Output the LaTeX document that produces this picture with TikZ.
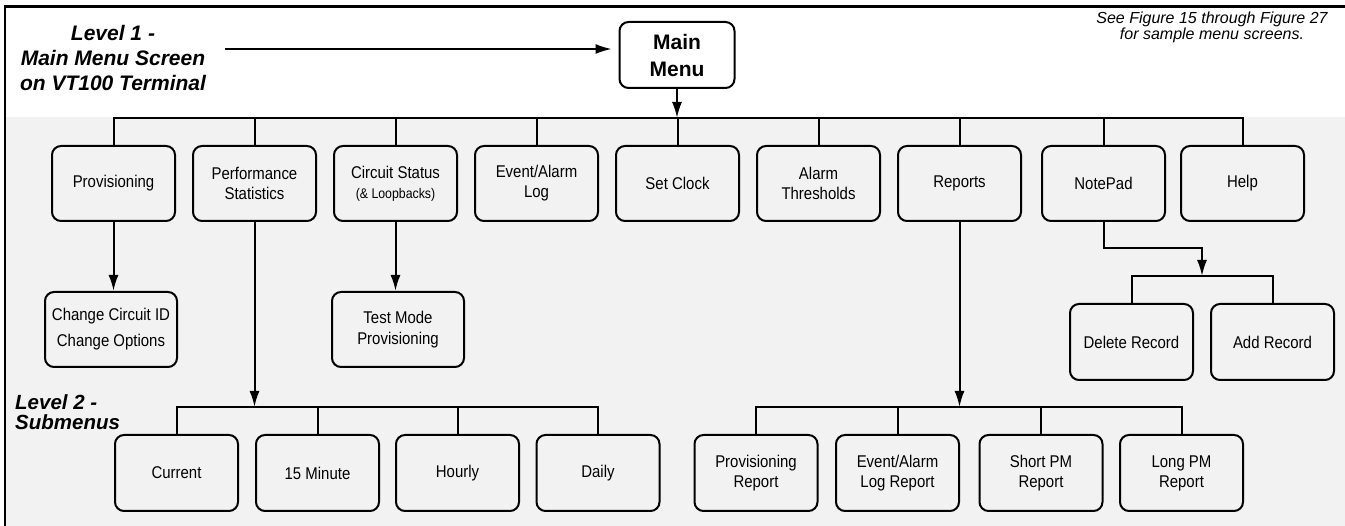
\documentclass[tikz,border=0pt]{standalone}
\usepackage{fontspec}
\setmainfont{Liberation Sans}
\newfontfamily\narrowsf{Liberation Sans}[FakeStretch=0.88]
\usetikzlibrary{arrows.meta}
\definecolor{panel}{HTML}{F2F2F2}
\tikzset{
  menubox/.style={draw, line width=2pt, rounded corners=9pt,
    minimum width=123pt, minimum height=75pt, inner sep=0pt, align=center,
    font=\narrowsf\fontsize{17}{20}\selectfont},
  link/.style={line width=2pt},
  arr/.style={line width=2pt, -{Latex[length=16pt,width=10pt]}},
  levellabel/.style={inner sep=0pt, font=\bfseries\itshape\fontsize{21}{25}\selectfont},
}
\begin{document}
\begin{tikzpicture}[x=1pt,y=-1pt]
\useasboundingbox (0,0) rectangle (1345,526);
% shaded panel and frame
\fill[panel] (5,117) rectangle (1345,526);
\draw[line width=2.8pt, line join=miter] (5,526) -- (5,6.5) -- (1345,6.5);

% headings
\node[levellabel, align=center] (lvl1) at (113,58) {Level 1 -\\Main Menu Screen\\on VT100 Terminal};
\node[levellabel, align=left, anchor=west, font=\bfseries\itshape\fontsize{20.5}{20}\selectfont] (lvl2) at (15,412) {Level 2 -\\Submenus};
\node[inner sep=0pt, align=center, font=\itshape\fontsize{16}{14}\selectfont] (see) at (1212,27) {See Figure 15 through Figure 27\\for sample menu screens.};

% main menu
\node[menubox, minimum width=115pt, minimum height=66pt,
      font=\bfseries\fontsize{21}{27}\selectfont] (main) at (677,55) {Main\\Menu};

% level 1 menus
\node[menubox] (prov) at (113.5,183.5) {Provisioning};
\node[menubox] (perf) at (254.5,183.5) {Performance\\Statistics};
\node[menubox] (circ) at (395.5,183.5) {Circuit Status\\{\fontsize{14}{16}\selectfont(\& Loopbacks)}};
\node[menubox] (evt)  at (536.5,183.5) {Event/Alarm\\Log};
\node[menubox] (clk)  at (677.5,183.5) {Set Clock};
\node[menubox] (thr)  at (818.5,183.5) {Alarm\\Thresholds};
\node[menubox] (rep)  at (959.5,183.5) {Reports};
\node[menubox] (note) at (1103.5,183.5) {NotePad};
\node[menubox] (help) at (1242.5,183.5) {Help};

% level 2 menus
\node[menubox, minimum width=132pt, font=\narrowsf\fontsize{17}{26}\selectfont] (cid) at (111,329.5) {Change Circuit ID\\Change Options};
\node[menubox, minimum width=132pt, font=\narrowsf\fontsize{17}{21}\selectfont] (test) at (398,329.5) {Test Mode\\Provisioning};
\node[menubox, minimum height=76pt] (del) at (1131.5,342) {Delete Record};
\node[menubox, minimum height=76pt] (add) at (1272.5,342) {Add Record};

\node[menubox, minimum height=76pt] (cur)   at (176.5,473) {Current};
\node[menubox, minimum height=76pt] (m15)   at (317.5,473) {15 Minute};
\node[menubox, minimum height=76pt] (hour)  at (457.5,473) {Hourly};
\node[menubox, minimum height=76pt] (day)   at (598,473) {Daily};
\node[menubox, minimum height=76pt] (prep)  at (756,473) {Provisioning\\Report};
\node[menubox, minimum height=76pt] (elog)  at (897.5,473) {Event/Alarm\\Log Report};
\node[menubox, minimum height=76pt] (spm)   at (1041,473) {Short PM\\Report};
\node[menubox, minimum height=76pt] (lpm)   at (1181.5,473) {Long PM\\Report};

% bus and junction points
\coordinate (bus)   at (0,118);
\coordinate (l1s)   at (225,49);
\coordinate (nbend) at (0,248);
\coordinate (njoin) at (1202,276);
\coordinate (lbus)  at (0,407);

% main menu to level 1
\draw[arr, line width=1.6pt, shorten >=7pt] (l1s) -- (l1s -| main.west);
\draw[link] (prov.north) |- (help.north |- bus) -- (help.north);
\foreach \n in {perf,circ,evt,clk,thr,rep,note}
  \draw[link] (\n.north) -- (\n.north |- bus);
\draw[arr] (main.south) -- (main.south |- bus);

% level 1 to level 2
\draw[arr] (prov.south) -- (prov.south |- cid.north);
\draw[arr] (circ.south) -- (circ.south |- test.north);
\draw[arr] (note.south) -- (note.south |- nbend) -| (njoin);
\draw[link] (del.north) |- (add.north |- njoin) -- (add.north);

\draw[arr] (perf.south) -- (perf.south |- lbus);
\draw[link] (cur.north) |- (day.north |- lbus) -- (day.north);
\foreach \n in {m15,hour}
  \draw[link] (\n.north) -- (\n.north |- lbus);

\draw[arr] (rep.south) -- (rep.south |- lbus);
\draw[link] (prep.north) |- (lpm.north |- lbus) -- (lpm.north);
\foreach \n in {elog,spm}
  \draw[link] (\n.north) -- (\n.north |- lbus);
\end{tikzpicture}
\end{document}
